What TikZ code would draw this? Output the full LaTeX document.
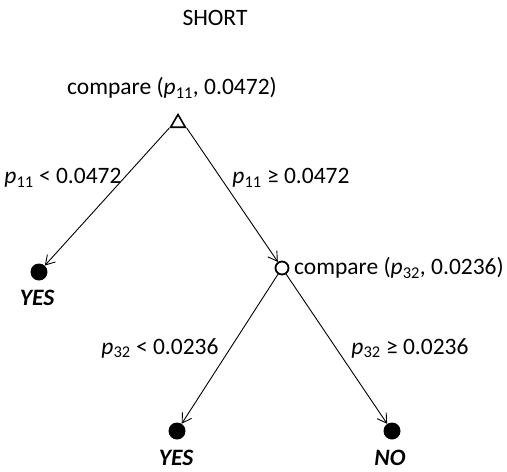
\documentclass[tikz,border=0pt]{standalone}
\usepackage{fontspec}
\setmainfont{Carlito}
\usetikzlibrary{shapes.geometric,arrows.meta}
\newcommand{\pv}[1]{\textit{p}\textsubscript{#1}}
\begin{document}
\begin{tikzpicture}[x=1pt,y=-1pt,
  txt/.style={inner sep=0pt,font=\fontsize{23.5}{27}\selectfont},
  leaf/.style={circle,fill=black,inner sep=0pt,minimum size=17pt},
  opennode/.style={circle,draw=black,line width=1.8pt,inner sep=0pt,minimum size=13pt},
  tri/.style={regular polygon,regular polygon sides=3,draw=black,line width=1.6pt,inner sep=0pt,minimum size=17pt},
  res/.style={inner sep=0pt,font=\fontsize{23.5}{27}\selectfont\bfseries\itshape},
  edge/.style={line width=0.9pt,-{Straight Barb[length=9pt,width=11pt]}}]
\useasboundingbox (0,0) rectangle (507,472);
\node[txt] (title) at (215,18) {SHORT};
\node[txt] (c1lab) at (172,88) {compare (\pv{11}, 0.0472)};
\node[tri] (t) at (178,123) {};
\node[leaf] (l1) at (39,272) {};
\node[res] (y1) at (37,298) {YES};
\node[opennode] (o) at (282,268) {};
\node[txt,anchor=west] (c2lab) at (294,268) {compare (\pv{32}, 0.0236)};
\node[leaf] (l2) at (177,431) {};
\node[res] (y2) at (176,458) {YES};
\node[leaf] (l3) at (392,431) {};
\node[res] (n3) at (390,458) {NO};
\node[txt] (e1) at (63,178) {\pv{11} < 0.0472};
\node[txt] (e2) at (291,178) {\pv{11} ≥ 0.0472};
\node[txt] (e3) at (160,348) {\pv{32} < 0.0236};
\node[txt] (e4) at (410,348) {\pv{32} ≥ 0.0236};
\draw[edge] (t.corner 2) -- (l1);
\draw[edge] (t.corner 3) -- (o);
\draw[edge] (o) -- (l2);
\draw[edge] (o) -- (l3);
\end{tikzpicture}
\end{document}
